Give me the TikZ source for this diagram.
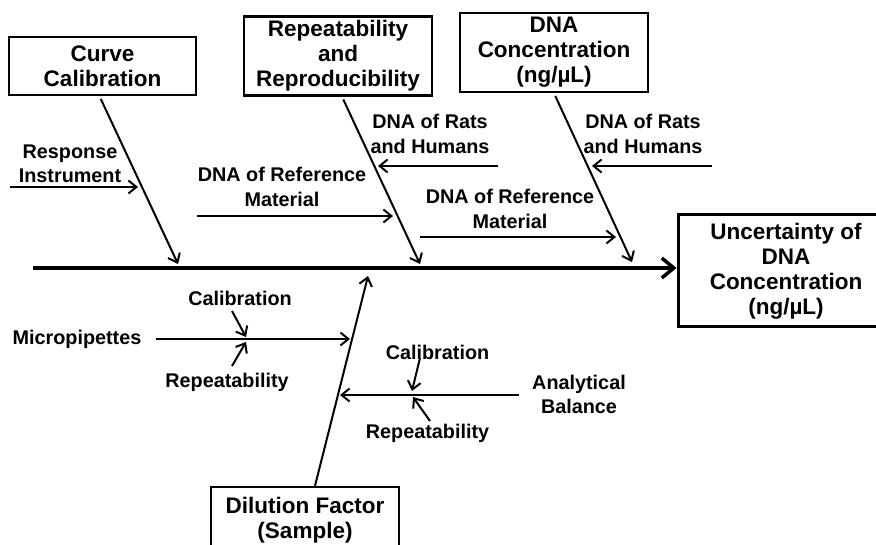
\documentclass[tikz,border=0pt]{standalone}
\usepackage{fontspec}
\setmainfont{Liberation Sans}
\usetikzlibrary{arrows.meta}

\begin{document}
\begin{tikzpicture}[x=1pt,y=-1pt,
  cause/.style={draw,line width=2.4pt,align=center,inner sep=0pt,
    font=\bfseries\fontsize{22.5}{25}\selectfont},
  lbl/.style={align=center,inner sep=1pt,
    font=\bfseries\fontsize{19.8}{24.5}\selectfont},
  bone/.style={line width=2pt,-{Straight Barb[length=8pt,width=13pt,line width=2pt]}},
  spine/.style={line width=3.5pt,-{Straight Barb[length=12pt,width=20pt,line width=3.5pt]}}]

  \useasboundingbox (0,0) rectangle (876,545);

  % cause boxes
  \node[cause,minimum width=187pt,minimum height=58pt] (curve) at (102.5,66) {Curve\\Calibration};
  \node[cause,minimum width=188pt,minimum height=79pt] (rep) at (338,56) {Repeatability\\and\\Reproducibility};
  \node[cause,minimum width=188pt,minimum height=79pt] (conc) at (554,52.5) {DNA\\Concentration\\(ng/µL)};
  \node[cause,minimum width=188pt,minimum height=66pt] (dil) at (305,520) {Dilution Factor\\(Sample)};
  \node[cause,line width=3pt,minimum width=216pt,minimum height=112pt] (unc) at (786,271)
    {Uncertainty of\\DNA\\Concentration\\(ng/µL)};

  % spine
  \coordinate (s0) at (33,268);
  \draw[spine] (s0) -- (s0 -| unc.west);

  % main bones
  \coordinate (c1) at (178,264);
  \coordinate (r1) at (420,264);
  \coordinate (d1) at (632,262);
  \coordinate (f1) at (368,276);
  \draw[bone,shorten <=3pt] ([xshift=-3pt]curve.south) -- (c1);
  \draw[bone,shorten <=3pt] ([xshift=4pt]rep.south) -- (r1);
  \draw[bone,shorten <=3pt] (conc.south) -- (d1);
  \draw[bone] ([xshift=10pt]dil.north) -- (f1);

  % sub causes
  \node[lbl] (resp) at (70,164) {Response\\Instrument};
  \coordinate (resp0) at (10,187);
  \coordinate (resp1) at (138,187);
  \draw[bone] (resp0) -- (resp1);

  \node[lbl] (rats1) at (430,134) {DNA of Rats\\and Humans};
  \coordinate (rats10) at (498,166);
  \coordinate (rats11) at (378,166);
  \draw[bone] (rats10) -- (rats11);

  \node[lbl] (refm1) at (282,187) {DNA of Reference\\Material};
  \coordinate (refm10) at (197,216);
  \coordinate (refm11) at (393,216);
  \draw[bone] (refm10) -- (refm11);

  \node[lbl] (rats2) at (643,134) {DNA of Rats\\and Humans};
  \coordinate (rats20) at (712,166);
  \coordinate (rats21) at (592,166);
  \draw[bone] (rats20) -- (rats21);

  \node[lbl] (refm2) at (510,209) {DNA of Reference\\Material};
  \coordinate (refm20) at (420,237);
  \coordinate (refm21) at (616,237);
  \draw[bone] (refm20) -- (refm21);

  % dilution side
  \node[lbl] (pip) at (77,339) {Micropipettes};
  \coordinate (pip1) at (350,339);
  \draw[bone,shorten <=13pt] (pip.east) -- (pip1);

  \node[lbl] (cal1) at (240,298) {Calibration};
  \coordinate (cal10) at (232,311);
  \coordinate (cal11) at (246,337);
  \draw[bone] (cal10) -- (cal11);

  \node[lbl] (rpt1) at (227,382) {Repeatability};
  \coordinate (rpt10) at (232,366);
  \coordinate (rpt11) at (246,342);
  \draw[bone] (rpt10) -- (rpt11);

  \node[lbl] (bal) at (579,394.5) {Analytical\\Balance};
  \coordinate (bal1) at (340,395);
  \draw[bone,shorten <=12pt] (bal.west |- bal1) -- (bal1);

  \node[lbl] (cal2) at (437.5,352) {Calibration};
  \coordinate (cal20) at (420,358);
  \coordinate (cal21) at (412,391);
  \draw[bone] (cal20) -- (cal21);

  \node[lbl] (rpt2) at (427.5,433) {Repeatability};
  \coordinate (rpt20) at (430,421);
  \coordinate (rpt21) at (413,397);
  \draw[bone] (rpt20) -- (rpt21);
\end{tikzpicture}
\end{document}
